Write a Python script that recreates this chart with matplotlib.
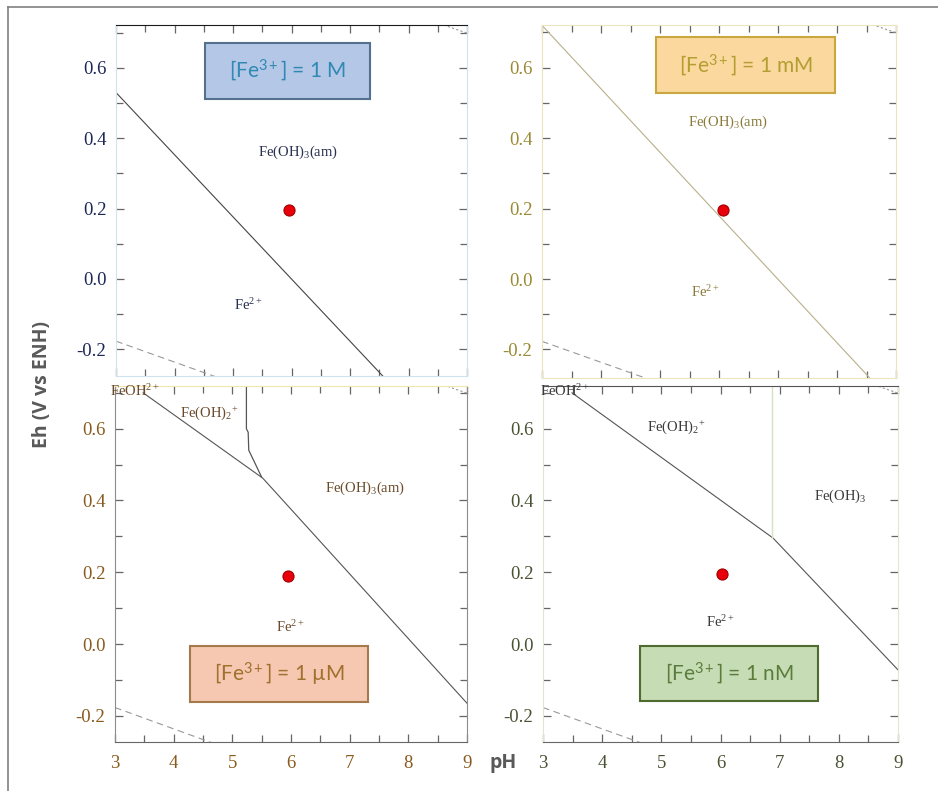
import numpy as np
import matplotlib
matplotlib.use("Agg")
import matplotlib.pyplot as plt
from matplotlib.patches import Rectangle

plt.rcParams["font.family"] = ["Liberation Serif", "DejaVu Serif"]
plt.rcParams["mathtext.fontset"] = "custom"
plt.rcParams["mathtext.rm"] = "Liberation Serif"
plt.rcParams["mathtext.it"] = "Liberation Serif:italic"
plt.rcParams["mathtext.sf"] = "Lato"
plt.rcParams["mathtext.default"] = "rm"

# ---- data (pH, Eh in V) ----
ph_ticks = [3, 4, 5, 6, 7, 8, 9]
eh_ticks = [-0.2, 0.0, 0.2, 0.4, 0.6]

# Fe2+ / Fe(OH)3 boundary, one per concentration
bound_1M_ph = [3.0, 7.56]
bound_1M_eh = [0.53, -0.276]
bound_1mM_ph = [3.0, 8.55]
bound_1mM_eh = [0.72, -0.28]
bound_1uM_ph = [3.48, 5.52, 9.0]
bound_1uM_eh = [0.70, 0.462, -0.165]
bound_1nM_ph = [3.49, 6.89, 9.0]
bound_1nM_eh = [0.70, 0.295, -0.072]

# Fe(OH)2+ / Fe(OH)3 vertical boundaries
vert_1uM_ph = [5.24, 5.24, 5.27, 5.28, 5.50]
vert_1uM_eh = [0.72, 0.60, 0.59, 0.54, 0.465]
vert_1nM_ph = [6.87, 6.87]
vert_1nM_eh = [0.72, 0.295]

# water stability lines
h2_ph = [3.0, 4.75]
h2_eh = [-0.177, -0.281]
o2_ph = [8.6, 9.0]
o2_eh = [0.722, 0.699]

# sample point
dot_ph = [5.95, 6.06, 5.95, 6.03]
dot_eh = [0.195, 0.195, 0.19, 0.195]

titles = [r"[Fe$^{\mathsf{3+}}$] = 1 M", r"[Fe$^{\mathsf{3+}}$] = 1 mM",
          r"[Fe$^{\mathsf{3+}}$] = 1 µM", r"[Fe$^{\mathsf{3+}}$] = 1 nM"]

fig = plt.figure(figsize=(9.38, 7.91), dpi=100)

# outer frame (left and top edge only, like the slide crop)
fig.add_artist(plt.Line2D([8 / 938, 8 / 938], [0, 1 - 7 / 791], color="#808080", lw=1.2))
fig.add_artist(plt.Line2D([8 / 938, 1], [1 - 7 / 791, 1 - 7 / 791], color="#808080", lw=1.2))


def px_rect(x0, y0, x1, y1):
    return [x0 / 938, (791 - y1) / 791, (x1 - x0) / 938, (y1 - y0) / 791]


panels = [
    dict(rect=px_rect(116, 25, 467, 376), ylim=(-0.276, 0.722), tick="#1c2758",
         spine="#cfe3ef", top="#1a1a1a", fill="#b4c7e7", edge="#54708f", txt="#2f89b3",
         box=(4.52, 0.512, 7.34, 0.671), line_c="#444444",
         bound=(bound_1M_ph, bound_1M_eh), xlab=False),
    dict(rect=px_rect(542, 25, 896, 378), ylim=(-0.281, 0.721), tick="#9a8a33",
         spine="#ece4bd", top="#ece4bd", fill="#fbd89e", edge="#c9a640", txt="#b39e32",
         box=(4.94, 0.527, 7.97, 0.688), line_c="#b8b08a",
         bound=(bound_1mM_ph, bound_1mM_eh), xlab=False),
    dict(rect=px_rect(115, 386, 467, 742), ylim=(-0.273, 0.719), tick="#8a5a1e",
         spine="#8c8c8c", top="#efe6b0", fill="#f6c8b2", edge="#a57a4b", txt="#a0702c",
         box=(4.28, -0.162, 7.31, -0.006), line_c="#555555",
         bound=(bound_1uM_ph, bound_1uM_eh), xlab=True),
    dict(rect=px_rect(543, 386, 898, 742), ylim=(-0.273, 0.719), tick="#4a5234",
         spine="#dfe8cf", top="#555555", fill="#c6dcb4", edge="#4f6b30", txt="#5c7c3e",
         box=(4.64, -0.159, 7.65, -0.006), line_c="#555555",
         bound=(bound_1nM_ph, bound_1nM_eh), xlab=True),
]

axes = []
for i, p in enumerate(panels):
    ax = fig.add_axes(p["rect"])
    axes.append(ax)
    ax.set_xlim(3, 9)
    ax.set_ylim(*p["ylim"])
    ax.set_xticks(ph_ticks)
    ax.set_xticks(np.arange(3.5, 9, 1.0), minor=True)
    ax.set_yticks(eh_ticks)
    ax.set_yticks([-0.1, 0.1, 0.3, 0.5, 0.7], minor=True)
    ax.yaxis.set_major_formatter(plt.FuncFormatter(lambda v, _: f"{v:.1f}"))
    ax.tick_params(which="both", direction="in", top=True, right=True,
                   color="#666666", width=0.9, labelsize=13.5, labelcolor=p["tick"])
    ax.tick_params(which="major", length=6)
    ax.tick_params(which="minor", length=5)
    ax.tick_params(axis="y", which="major", pad=7)
    ax.tick_params(axis="x", which="major", pad=9)
    if not p["xlab"]:
        ax.set_xticklabels([])
    for side in ["left", "right", "bottom"]:
        ax.spines[side].set_color(p["spine"])
    ax.spines["top"].set_color(p["top"])
    if i >= 2:
        ax.spines["bottom"].set_color("#666666")

    bph, beh = p["bound"]
    ax.plot(bph, beh, color=p["line_c"], lw=0.8)
    ax.plot(h2_ph, h2_eh, color="#999999", lw=0.8, ls=(0, (6, 4)))
    ax.plot(o2_ph, o2_eh, color="#999999", lw=0.8, ls=(0, (2, 2)))

    x0, y0, x1, y1 = p["box"]
    ax.add_patch(Rectangle((x0, y0), x1 - x0, y1 - y0, facecolor=p["fill"],
                           edgecolor=p["edge"], lw=1.5, zorder=3))
    ax.text((x0 + x1) / 2, (y0 + y1) / 2, titles[i], ha="center", va="center",
            fontsize=15, color=p["txt"], family="Lato", zorder=4)

    ax.plot(dot_ph[i], dot_eh[i], "o", ms=8, mfc="#e8000b", mec="#a00000",
            mew=0.8, zorder=5)

fs = 10.5
# species labels
axes[0].text(6.11, 0.361, "Fe(OH)$_3$(am)", ha="center", va="center", fontsize=fs,
             color="#27304f")
axes[0].text(5.27, -0.074, "Fe$^{2+}$", ha="center", va="center", fontsize=fs,
             color="#27304f")
axes[1].text(6.15, 0.446, "Fe(OH)$_3$(am)", ha="center", va="center", fontsize=fs,
             color="#8a7a3a")
axes[1].text(5.76, -0.036, "Fe$^{2+}$", ha="center", va="center", fontsize=fs,
             color="#8a7a3a")

axes[2].plot(vert_1uM_ph, vert_1uM_eh, color="#555555", lw=0.9)
axes[2].text(2.92, 0.705, "FeOH$^{2+}$", ha="left", va="center", fontsize=fs,
             color="#6a4a2a", clip_on=False)
axes[2].text(4.6, 0.644, "Fe(OH)$_2$$^{+}$", ha="center", va="center", fontsize=fs,
             color="#6a4a2a")
axes[2].text(7.26, 0.435, "Fe(OH)$_3$(am)", ha="center", va="center", fontsize=fs,
             color="#6a4a2a")
axes[2].text(5.98, 0.047, "Fe$^{2+}$", ha="center", va="center", fontsize=fs,
             color="#6a4a2a")

axes[3].plot(vert_1nM_ph, vert_1nM_eh, color="#d5e3c0", lw=1.0)
axes[3].text(2.95, 0.705, "FeOH$^{2+}$", ha="left", va="center", fontsize=fs,
             color="#3a3a3a", clip_on=False)
axes[3].text(5.26, 0.605, "Fe(OH)$_2$$^{+}$", ha="center", va="center", fontsize=fs,
             color="#3a3a3a")
axes[3].text(8.02, 0.412, "Fe(OH)$_3$", ha="center", va="center", fontsize=fs,
             color="#3a3a3a")
axes[3].text(5.99, 0.062, "Fe$^{2+}$", ha="center", va="center", fontsize=fs,
             color="#3a3a3a")

# shared axis titles
fig.text(42 / 938, 1 - 385 / 791, "Eh (V vs ENH)", rotation=90, ha="center",
         va="center", fontsize=14, fontweight="bold", color="#595959", family="Open Sans")
fig.text(503 / 938, 1 - 763 / 791, "pH", ha="center", va="center", fontsize=14,
         fontweight="bold", color="#595959", family="Open Sans")

fig.savefig("out.png", dpi=100)
